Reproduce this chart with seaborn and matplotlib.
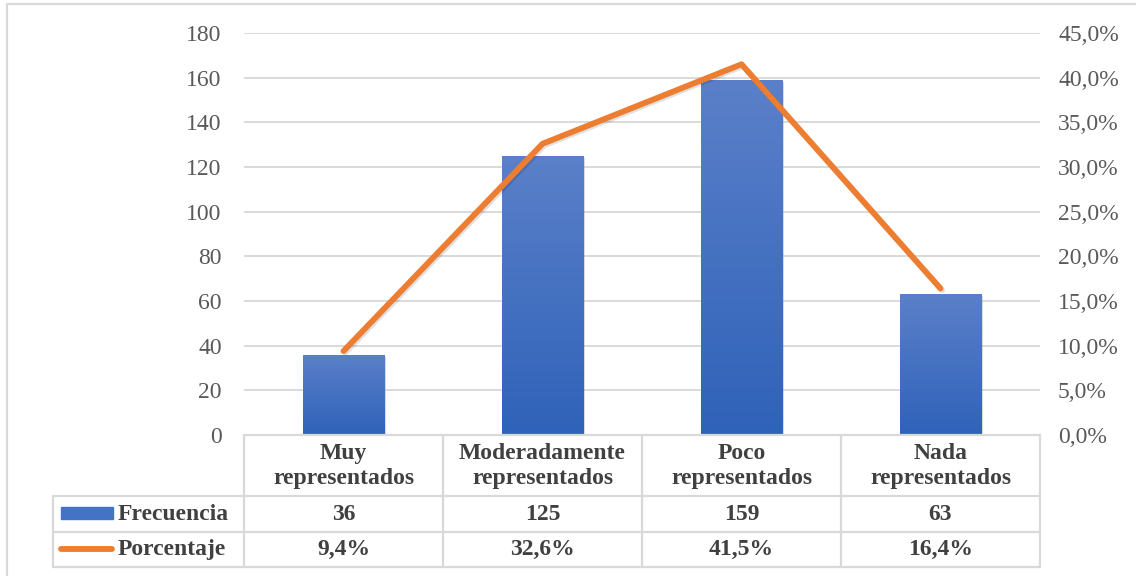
import numpy as np
import pandas as pd
import matplotlib.pyplot as plt
import matplotlib.transforms as mtransforms
import matplotlib.patheffects as pe
from matplotlib.colors import LinearSegmentedColormap
from matplotlib.lines import Line2D
from matplotlib.patches import Rectangle
import seaborn as sns

# Data
categorias = ["Muy\nrepresentados", "Moderadamente\nrepresentados",
              "Poco\nrepresentados", "Nada\nrepresentados"]
frecuencia = [36, 125, 159, 63]
porcentaje = [9.4, 32.6, 41.5, 16.4]
etiqueta_pct = ["9,4%", "32,6%", "41,5%", "16,4%"]

sns.set_style("white")
plt.rcParams['font.family'] = ['Liberation Serif', 'DejaVu Serif']

W, H = 1136, 576
fig = plt.figure(figsize=(W / 100, H / 100), dpi=100)
ax = fig.add_axes([244 / W, 1 - 435 / H, (1040 - 244) / W, (435 - 33) / H])

def fy(y):
    # pixel row -> figure fraction
    return 1 - y / H

def fx(x):
    return x / W

grid_c = "#d9d9d9"
txt_c = "#595959"
tab_c = "#404040"
blue = "#4472C4"
orange = "#ED7D31"

df = pd.DataFrame({"cat": range(4), "frec": frecuencia})
sns.barplot(data=df, x="cat", y="frec", color=blue, width=0.41,
            saturation=1, ax=ax, zorder=2)

# gradient fill on bars
cmap = LinearSegmentedColormap.from_list("g", ["#2F62B9", "#5B80C9"])
grad = np.linspace(0, 1, 256).reshape(-1, 1)
for p in ax.patches:
    p.set_path_effects([pe.SimplePatchShadow(offset=(1.5, -1.5), alpha=0.2), pe.Normal()])
    x0, y0, w, h = p.get_x(), p.get_y(), p.get_width(), p.get_height()
    im = ax.imshow(grad, extent=[x0, x0 + w, y0, y0 + h], aspect="auto",
                   cmap=cmap, origin="lower", zorder=2.5)
    im.set_clip_path(p)

ax.set_xlim(-0.5, 3.5)
ax.set_ylim(0, 180)
ax.set_yticks(range(0, 181, 20))
ax.yaxis.grid(True, color=grid_c, lw=1.4)
ax.set_axisbelow(True)
for s in ax.spines.values():
    s.set_visible(False)
ax.tick_params(axis="y", length=0, pad=16, labelsize=17, labelcolor=txt_c)
ax.set_xticks([])
ax.set_xlabel("")
ax.set_ylabel("")

ax2 = ax.twinx()
sns.lineplot(x=list(range(4)), y=porcentaje, color=orange, lw=4.2, ax=ax2,
             solid_capstyle="round", solid_joinstyle="round",
             path_effects=[pe.SimpleLineShadow(offset=(1.2, -1.2), alpha=0.12), pe.Normal()])
ax2.set_ylim(0, 45)
ax2.set_yticks(range(0, 46, 5))
ax2.set_yticklabels([f"{v:.1f}%".replace(".", ",") for v in range(0, 46, 5)])
ax2.tick_params(axis="y", length=0, pad=13, labelsize=17, labelcolor=txt_c)
for s in ax2.spines.values():
    s.set_visible(False)
ax2.set_ylabel("")
ax2.patch.set_visible(False)

# Data table below the plot
tb = mtransforms.blended_transform_factory(ax.transData, fig.transFigure)
lw_t = 1.6
rows_y = [435, 496, 532, 567]
for y in rows_y:
    x_left = fx(53) if y != 435 else fx(244)
    fig.add_artist(Line2D([x_left, fx(1040)], [fy(y), fy(y)], color=grid_c, lw=lw_t))
for xb in [fx(244), fx(443), fx(642), fx(841), fx(1040)]:
    fig.add_artist(Line2D([xb, xb], [fy(435), fy(567)], color=grid_c, lw=lw_t))
fig.add_artist(Line2D([fx(53), fx(53)], [fy(496), fy(567)], color=grid_c, lw=lw_t))

for i, (c, f, pc) in enumerate(zip(categorias, frecuencia, etiqueta_pct)):
    ax.text(i, fy(466), c, transform=tb, ha="center", va="center", fontsize=17,
            fontweight="bold", color=tab_c, linespacing=1.2)
    ax.text(i, fy(514), str(f), transform=tb, ha="center", va="center",
            fontsize=17, fontweight="bold", color=tab_c)
    ax.text(i, fy(549), pc, transform=tb, ha="center", va="center",
            fontsize=17, fontweight="bold", color=tab_c)

# legend keys in table
fig.add_artist(Rectangle((fx(61), fy(519)), fx(113) - fx(61), fy(507) - fy(519),
                         color=blue, transform=fig.transFigure))
fig.add_artist(Line2D([fx(61), fx(112)], [fy(549), fy(549)], color=orange, lw=4.2,
                      solid_capstyle="round"))
fig.text(fx(118), fy(514), "Frecuencia", ha="left", va="center", fontsize=17,
         fontweight="bold", color=tab_c)
fig.text(fx(118), fy(549), "Porcentaje", ha="left", va="center", fontsize=17,
         fontweight="bold", color=tab_c)

# chart border
fig.add_artist(Line2D([fx(7), fx(7)], [fy(4), 0], color=grid_c, lw=1.6))
fig.add_artist(Line2D([fx(7), 1], [fy(4), fy(4)], color=grid_c, lw=1.6))

fig.savefig("out.png", dpi=100)
